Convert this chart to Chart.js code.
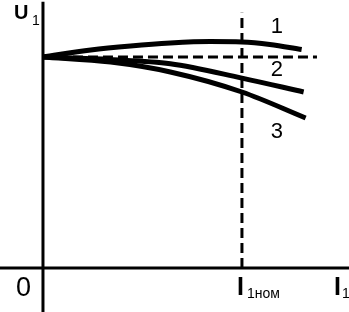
<!DOCTYPE html>
<html>
<head>
<meta charset="utf-8">
<script src="https://cdn.jsdelivr.net/npm/chart.js@4.4.1/dist/chart.umd.min.js"></script>
<style>
  html, body { margin: 0; padding: 0; background: #fff; }
  canvas { display: block; }
</style>
</head>
<body>
<canvas id="chart" width="349" height="312"></canvas>
<script>
// Relative load current I1/I1nom and voltage U1/U1nom
const current1 = [0, 0.24, 0.44, 0.64, 0.84, 1.0, 1.14, 1.30];
const voltage1 = [1.0, 1.033, 1.052, 1.066, 1.073, 1.071, 1.059, 1.035];

const current2 = [0, 0.34, 0.64, 1.0, 1.31];
const voltage2 = [1.0, 0.988, 0.968, 0.900, 0.834];

const current3 = [0, 0.34, 0.64, 1.0, 1.32];
const voltage3 = [1.0, 0.976, 0.929, 0.834, 0.711];

const curveLabels = ["1", "2", "3"];
const curveLabelY = [1.114, 0.910, 0.616];
const curveLabelX = 1.176;

const nominalCurrent = 1.0;
const nominalVoltage = 1.0;

const toPoints = (xs, ys) => xs.map((x, i) => ({ x: x, y: ys[i] }));

const curveStyle = {
  borderColor: "#000",
  borderWidth: 5,
  pointRadius: 0,
  fill: false,
  cubicInterpolationMode: "monotone"
};

const dashStyle = {
  borderColor: "#000",
  borderWidth: 3,
  borderDash: [10, 5],
  pointRadius: 0,
  fill: false,
  tension: 0
};

const FONT = "'Liberation Sans', Arial, sans-serif";

// Axes, origin and captions drawn on the scales
const axesPlugin = {
  id: "axes",
  afterDatasetsDraw(chart) {
    const ctx = chart.ctx;
    const xs = chart.scales.x;
    const ys = chart.scales.y;
    const x0 = xs.getPixelForValue(0);
    const y0 = ys.getPixelForValue(0);

    ctx.save();
    ctx.strokeStyle = "#000";
    ctx.lineWidth = 3;
    ctx.beginPath();
    ctx.moveTo(x0, ys.getPixelForValue(1.262));
    ctx.lineTo(x0, chart.height);
    ctx.moveTo(0, y0);
    ctx.lineTo(chart.width, y0);
    ctx.stroke();

    ctx.fillStyle = "#000";
    ctx.textBaseline = "alphabetic";
    ctx.textAlign = "left";

    // U1
    ctx.font = "bold 20px " + FONT;
    ctx.fillText("U", x0 - 29, 19);
    ctx.font = "14px " + FONT;
    ctx.fillText("1", x0 - 11, 25);

    // 0
    ctx.font = "27px " + FONT;
    ctx.fillText("0", x0 - 27, y0 + 28);

    // I1nom
    const xn = xs.getPixelForValue(nominalCurrent);
    ctx.font = "bold 25px " + FONT;
    ctx.fillText("I", xn - 5, y0 + 27);
    ctx.font = "14px " + FONT;
    ctx.fillText("1ном", xn + 5, y0 + 30);

    // I1
    ctx.font = "bold 25px " + FONT;
    ctx.fillText("I", chart.width - 15, y0 + 27);
    ctx.font = "14px " + FONT;
    ctx.fillText("1", chart.width - 7, y0 + 30);

    // curve numbers
    ctx.font = "22px " + FONT;
    ctx.textAlign = "center";
    curveLabels.forEach((t, i) => {
      ctx.fillText(t, xs.getPixelForValue(curveLabelX), ys.getPixelForValue(curveLabelY[i]));
    });
    ctx.restore();
  }
};

new Chart(document.getElementById("chart"), {
  type: "line",
  data: {
    datasets: [
      Object.assign({ data: toPoints(current1, voltage1) }, curveStyle),
      Object.assign({ data: toPoints(current2, voltage2) }, curveStyle),
      Object.assign({ data: toPoints(current3, voltage3) }, curveStyle),
      Object.assign({ data: [{ x: 0, y: nominalVoltage }, { x: 1.377, y: nominalVoltage }] }, dashStyle),
      Object.assign({ data: [{ x: nominalCurrent, y: 0 }, { x: nominalCurrent, y: 1.209 }] }, dashStyle)
    ]
  },
  options: {
    responsive: false,
    animation: false,
    layout: { padding: 0 },
    clip: false,
    plugins: {
      legend: { display: false },
      tooltip: { enabled: false }
    },
    scales: {
      x: { type: "linear", min: -0.216, max: 1.538, display: false },
      y: { type: "linear", min: -0.2085, max: 1.270, display: false }
    }
  },
  plugins: [axesPlugin]
});
</script>
</body>
</html>
